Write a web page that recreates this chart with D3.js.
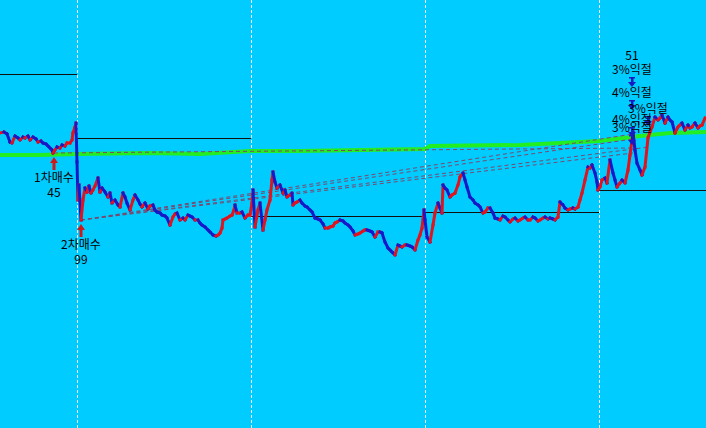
<!DOCTYPE html>
<html><head><meta charset="utf-8">
<script src="https://cdn.jsdelivr.net/npm/d3@7"></script>
<style>html,body{margin:0;padding:0;background:#00ccff;overflow:hidden}</style>
</head><body>
<svg id="c" width="706" height="428"></svg>
<script>
// ---------------- DATA ----------------
const barCount = 706;                       // bars shown
const sessionStarts = [77, 251, 425, 599];  // bar index where each session begins
const priceDomain = [720, 5000];
// previous-session reference levels: [fromBar, toBar, price]
const refLevels = [[0,77,4260],[77,251,3620],[251,425,2840],[425,599,2880],[599,706,3100]];

const session0 = [[0,3670],[4,3680],[7,3660],[10,3580],[12,3570],[15,3640],[18,3620],[20,3600],[23,3630],[25,3620],[28,3640],[30,3600],[33,3630],[36,3610],[38,3580],[41,3590],[43,3570],[46,3560],[48,3540],[50,3520],[52,3500],[53,3470],[55,3500],[57,3530],[60,3520],[62,3550],[65,3540],[67,3570],[70,3570],[72,3600],[73,3670],[75,3730],[76,3770]];
const session1 = [[77,3380],[78,3000],[79,3150],[81,2800],[83,3000],[85,3120],[87,3080],[89,3140],[91,3070],[93,3100],[95,3140],[98,3220],[100,3080],[102,3120],[105,3080],[108,3030],[110,3070],[112,2970],[115,3000],[118,2950],[120,2930],[123,3070],[125,3030],[127,2970],[130,2900],[133,3000],[135,3050],[138,3000],[140,2960],[142,2930],[145,2970],[148,2910],[150,2940],[153,2950],[155,2900],[157,2880],[160,2870],[162,2850],[165,2840],[167,2820],[170,2750],[173,2830],[175,2860],[177,2870],[180,2800],[183,2820],[185,2800],[188,2850],[190,2840],[192,2830],[195,2800],[198,2800],[200,2770],[202,2750],[205,2730],[208,2700],[210,2680],[213,2650],[216,2640],[218,2650],[220,2670],[222,2720],[223,2800],[225,2810],[227,2820],[230,2840],[232,2850],[234,2900],[235,2950],[237,2870],[240,2870],[242,2880],[245,2820],[248,2850],[250,2850]];
const session2 = [[252,2970],[253,3100],[255,2730],[258,2900],[260,2970],[263,2700],[265,2800],[267,2900],[270,3000],[272,3200],[273,3280],[275,3180],[277,3120],[280,3150],[283,3070],[285,3100],[287,3030],[290,3050],[292,3070],[293,2950],[295,2970],[297,2980],[300,3000],[302,2970],[305,2940],[307,2930],[310,2900],[312,2880],[315,2820],[318,2810],[320,2800],[323,2760],[325,2720],[328,2720],[330,2730],[333,2740],[335,2770],[337,2780],[340,2800],[343,2790],[345,2770],[348,2750],[350,2730],[353,2690],[355,2650],[358,2660],[360,2670],[363,2690],[365,2700],[367,2700],[370,2690],[372,2680],[375,2630],[378,2680],[380,2680],[382,2670],[385,2580],[388,2520],[390,2500],[392,2480],[395,2450],[398,2550],[400,2540],[402,2530],[405,2550],[407,2550],[410,2540],[412,2530],[415,2500],[418,2600],[420,2650],[422,2720],[424,2900]];
const session3 = [[425,2800],[427,2630],[430,2580],[433,2750],[435,2870],[438,2970],[440,2920],[442,2870],[443,3150],[445,3120],[447,3100],[450,3030],[452,3050],[455,3070],[458,3150],[460,3230],[463,3270],[465,3200],[467,3130],[470,3030],[473,3000],[475,2970],[478,2950],[480,2930],[483,2870],[485,2880],[488,2920],[490,2920],[493,2870],[495,2820],[498,2810],[500,2800],[503,2840],[505,2830],[508,2800],[510,2780],[513,2810],[515,2820],[518,2790],[520,2800],[523,2820],[525,2830],[528,2800],[530,2800],[533,2830],[535,2820],[538,2790],[540,2800],[543,2820],[545,2830],[548,2810],[550,2820],[553,2810],[555,2800],[558,2830],[560,2980],[563,2950],[565,2920],[568,2900],[570,2910],[573,2920],[575,2910],[578,2930],[580,3000],[582,3070],[585,3200],[588,3330],[590,3320],[592,3350],[595,3270],[597,3180],[598,3100]];
const session4 = [[600,3130],[602,3200],[605,3220],[607,3170],[610,3400],[613,3270],[615,3200],[617,3130],[620,3170],[622,3200],[625,3170],[628,3300],[630,3450],[632,3600],[633,3680],[635,3500],[637,3370],[640,3300],[642,3250],[645,3330],[648,3620],[650,3680],[652,3730],[655,3830],[658,3800],[660,3820],[662,3850],[665,3770],[668,3830],[670,3800],[672,3780],[675,3670],[678,3730],[680,3750],[682,3770],[685,3700],[688,3750],[690,3720],[692,3730],[695,3770],[698,3720],[700,3740],[702,3750],[705,3820]];

const movingAvg = [[0,3450],[40,3450],[77,3460],[150,3470],[200,3460],[250,3490],[300,3490],[425,3510],[430,3540],[520,3550],[599,3590],[640,3640],[670,3670],[706,3680]];

const buys = [
  {bar:54, price:3470, label:"1차매수", qty:"45"},
  {bar:81, price:2800, label:"2차매수", qty:"99"}
];
// exits: bar, exit price, buy it closes, marker price (where arrow points)
const sells = [
  {bar:633, price:3660, buy:1, mark:4130, label:"3%익절", qty:"51"},
  {bar:633, price:3610, buy:1, mark:3900, label:"4%익절", qty:""},
  {bar:649, price:3530, buy:1, mark:3740, label:"3%익절", qty:""},
  {bar:633, price:3470, buy:1, mark:3630, label:"4%익절", qty:""},
  {bar:633, price:3520, buy:0, mark:3550, label:"3%익절", qty:""}
];

// ---------------- DRAW ----------------
const W = 706, H = 428;
const svg = d3.select("#c");
const x = d3.scaleLinear().domain([0, barCount]).range([0, W]);
const y = d3.scaleLinear().domain(priceDomain).range([H, 0]);
const F = "'Noto Sans CJK KR','Noto Sans',sans-serif";

svg.append("rect").attr("width", W).attr("height", H).attr("fill", "#00ccff");

// session separators
svg.append("g").selectAll("line").data(sessionStarts).join("line")
  .attr("x1", d => x(d) + 0.5).attr("x2", d => x(d) + 0.5)
  .attr("y1", 0).attr("y2", H)
  .attr("stroke", "#f0ffff").attr("stroke-width", 1).attr("stroke-dasharray", "3,2");

// reference levels
svg.append("g").selectAll("line").data(refLevels).join("line")
  .attr("x1", d => x(d[0])).attr("x2", d => x(d[1]))
  .attr("y1", d => Math.round(y(d[2])) + 0.5).attr("y2", d => Math.round(y(d[2])) + 0.5)
  .attr("stroke", "#101010").attr("stroke-width", 1);

// moving average
svg.append("path").datum(movingAvg)
  .attr("d", d3.line().x(d => x(d[0])).y(d => y(d[1])))
  .attr("fill", "none").attr("stroke", "#22ee22").attr("stroke-width", 4);

// trade links
svg.append("g").selectAll("line").data(sells).join("line")
  .attr("x1", d => x(buys[d.buy].bar)).attr("y1", d => y(buys[d.buy].price))
  .attr("x2", d => x(d.bar)).attr("y2", d => y(d.price))
  .attr("stroke", "#7a4a70").attr("stroke-width", 1).attr("stroke-dasharray", "4,3");

// price series
const sessions = [session0, session1, session2, session3, session4];
const all = sessions.flat();
const segs = [];
for (let i = 1; i < all.length; i++) segs.push([all[i-1], all[i]]);
svg.append("g").selectAll("line").data(segs).join("line")
  .attr("x1", d => x(d[0][0])).attr("y1", d => y(d[0][1]))
  .attr("x2", d => x(d[1][0])).attr("y2", d => y(d[1][1]))
  .attr("stroke", d => d[1][1] >= d[0][1] ? "#e0141e" : "#1818c8")
  .attr("stroke-width", 3).attr("stroke-linecap", "square");

// buy markers
const bg = svg.append("g");
buys.forEach(b => {
  const bx = x(b.bar), by = y(b.price) + 4;
  bg.append("path").attr("d", `M${bx},${by} L${bx-4},${by+6} L${bx+4},${by+6} Z`).attr("fill", "#d01818");
  bg.append("rect").attr("x", bx-1.5).attr("y", by+5).attr("width", 3).attr("height", 8).attr("fill", "#d01818");
  bg.append("text").attr("x", bx).attr("y", by+25).attr("text-anchor", "middle")
    .attr("font-family", F).attr("font-size", 12).attr("fill", "#000").text(b.label);
  bg.append("text").attr("x", bx).attr("y", by+40).attr("text-anchor", "middle")
    .attr("font-family", F).attr("font-size", 12).attr("fill", "#000").text(b.qty);
});

// sell markers
const sg = svg.append("g");
sells.forEach(s => {
  const sx = x(s.bar) - 1, ty = y(s.mark);
  sg.append("rect").attr("x", sx-3).attr("y", ty-10).attr("width", 6).attr("height", 1.5).attr("fill", "#1a1ac0");
  sg.append("rect").attr("x", sx-1).attr("y", ty-10).attr("width", 2.5).attr("height", 7).attr("fill", "#1a1ac0");
  sg.append("path").attr("d", `M${sx},${ty} L${sx-4},${ty-5} L${sx+4},${ty-5} Z`).attr("fill", "#1a1ac0");
  sg.append("text").attr("x", sx).attr("y", ty-13).attr("text-anchor", "middle")
    .attr("font-family", F).attr("font-size", 12).attr("fill", "#000").text(s.label);
  if (s.qty) sg.append("text").attr("x", sx).attr("y", ty-27).attr("text-anchor", "middle")
    .attr("font-family", F).attr("font-size", 12).attr("fill", "#000").text(s.qty);
});
</script>
</body></html>
